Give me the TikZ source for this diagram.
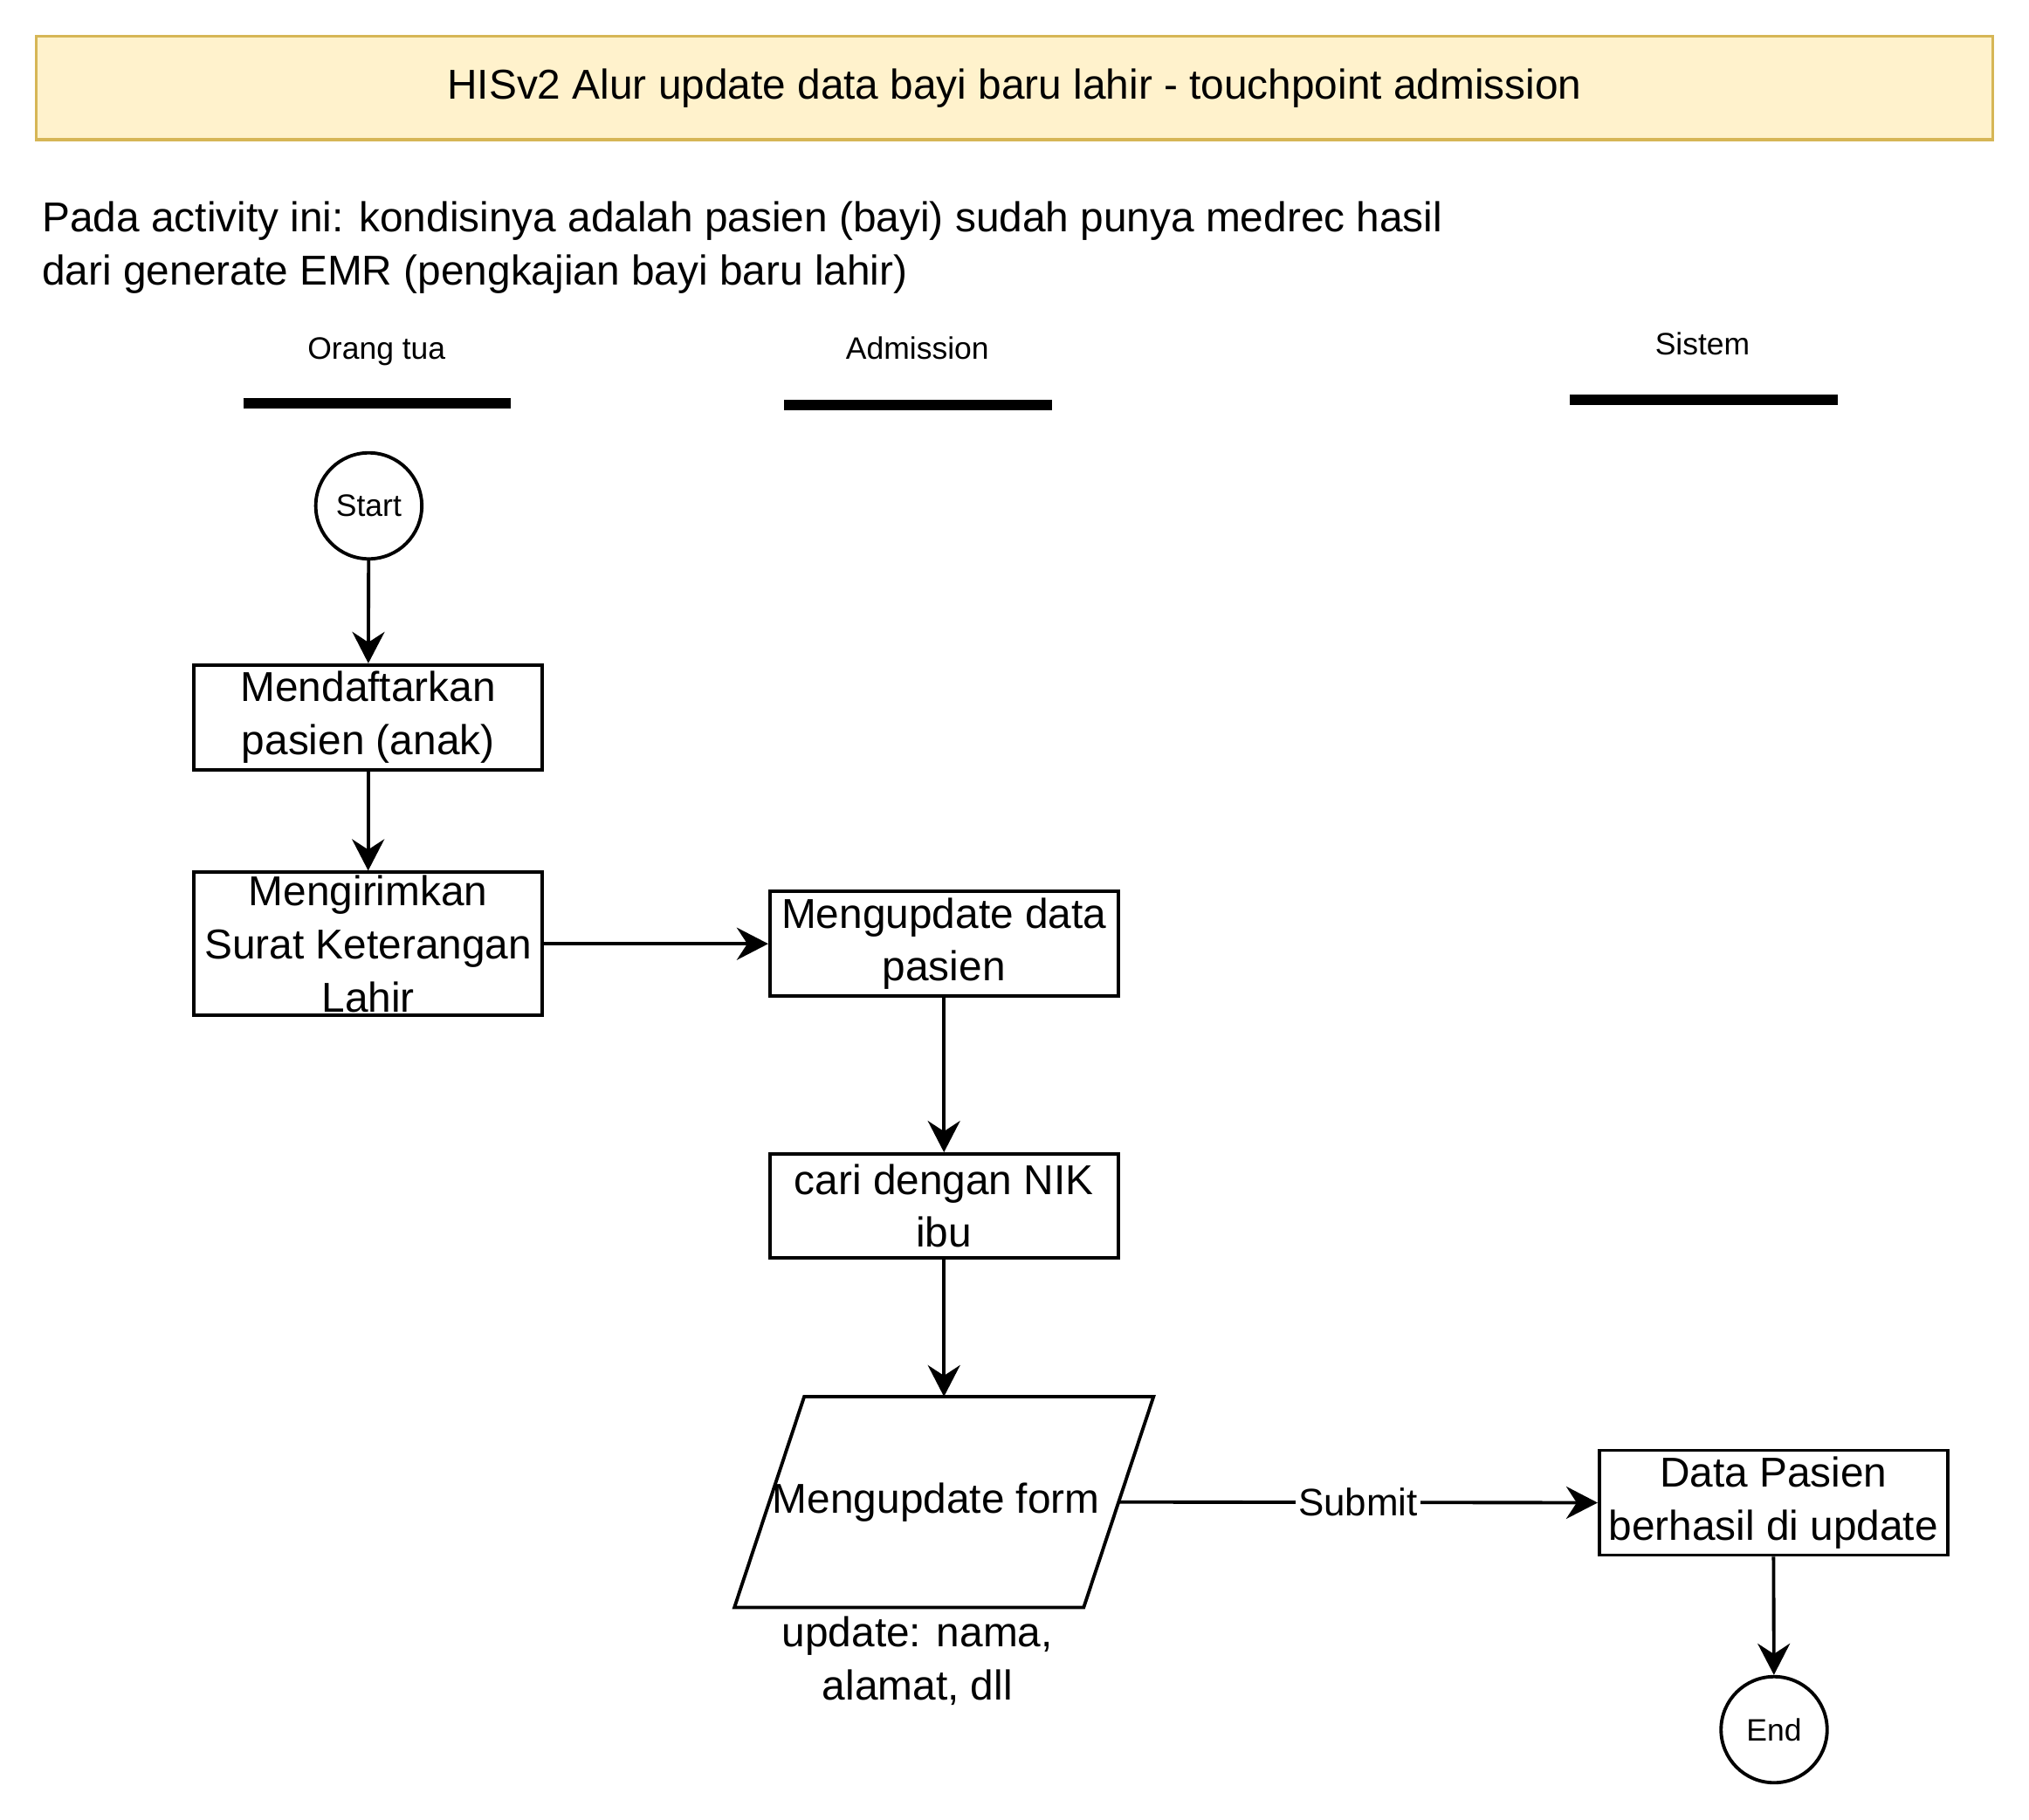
\documentclass[tikz,border=0pt]{standalone}
\usepackage{fontspec}
\setmainfont{Liberation Sans}
\usepackage{xcolor}
\usepackage{tikz}
\usetikzlibrary{arrows.meta,positioning,calc}
\definecolor{titlefill}{HTML}{FFF2CC}
\definecolor{titledraw}{HTML}{D6B656}
\newcommand{\boxfont}{\fontsize{13.6}{17.3}\selectfont}
\newcommand{\smallfont}{\fontsize{10.1}{12}\selectfont}

\begin{document}
\begin{tikzpicture}[
    >={Stealth[length=3.6mm,width=3.7mm,inset=1.2mm]},
    flow/.style={->,line width=1.1pt,draw=black},
    process/.style={draw=black,line width=1.1pt,fill=white,
      minimum width=3.987cm,minimum height=1.2cm,align=center,
      inner sep=1pt,font=\boxfont},
    terminal/.style={circle,draw=black,line width=1.1pt,fill=white,
      minimum size=1.215cm,inner sep=0pt,font=\smallfont},
    formarea/.style={minimum width=4.787cm,minimum height=2.401cm,
      inner sep=0pt,font=\boxfont},
    formline/.style={draw=black,line width=1.1pt,line join=miter},
    titlebox/.style={draw=titledraw,line width=1.1pt,fill=titlefill,
      minimum width=22.41cm,minimum height=1.186cm,font=\boxfont},
    lanelabel/.style={font=\smallfont,anchor=base},
    lanebar/.style={line width=3.4pt,draw=black},
    note/.style={font=\boxfont,align=center},
    edgelabel/.style={fill=white,inner sep=1pt,
      font=\fontsize{12.5}{15}\selectfont}
  ]
    \useasboundingbox (0,0) rectangle (23.24,-20.84);

    % Header and description.
    \node[titlebox] (title) at (11.62,-1.008)
      {HISv2 Alur update data bayi baru lahir - touchpoint admission};
    \node[note,anchor=west,align=left] (desc) at (0.36,-2.84)
      {Pada activity ini: kondisinya adalah pasien (bayi) sudah punya medrec hasil\\
       dari generate EMR (pengkajian bayi baru lahir)};

    % Lanes.
    \node[lanelabel] (laneortu) at (4.313,-4.11) {Orang tua};
    \node[lanelabel] (laneadm) at (10.508,-4.11) {Admission};
    \node[lanelabel] (lanesys) at (19.50,-4.065) {Sistem};
    \draw[lanebar] (2.786,-4.620) -- (5.854,-4.620);
    \draw[lanebar] (8.982,-4.639) -- (12.050,-4.639);
    \draw[lanebar] (17.978,-4.580) -- (21.046,-4.580);

    % Orang tua.
    \node[terminal] (start) at (4.224,-5.795) {Start};
    \node[process] (daftar) at (4.217,-8.218)
      {Mendaftarkan\\pasien (anak)};
    \node[process,minimum height=1.586cm] (kirim) at (4.217,-10.812)
      {Mengirimkan\\Surat Keterangan\\Lahir};

    % Admission.
    \node[process] (updatedata) at (10.812,-10.812)
      {Mengupdate data\\pasien};
    \node[process,minimum height=1.186cm] (carinik) at (10.812,-13.813)
      {cari dengan NIK\\ibu};
    \node[formarea,xshift=-0.09cm] (formtext) at (10.812,-17.207) {Mengupdate form};
    \node[formarea] (form) at (10.812,-17.207) {};
    \draw[formline]
      ($(form.north west)+(0.80,0)$) -- (form.north east) --
      ($(form.south east)+(-0.80,0)$) -- (form.south west) -- cycle;
    \coordinate (formright) at ($(form.east)+(-0.40,0)$);
    \node[note] (formnote) at (10.508,-19.03)
      {update: nama,\\alamat, dll};

    % Sistem.
    \node[process] (berhasil) at (20.312,-17.215)
      {Data Pasien\\berhasil di update};
    \node[terminal] (end) at (20.32,-19.815) {End};

    \draw[flow] (start) -- (daftar);
    \draw[flow] (daftar) -- (kirim);
    \draw[flow] (kirim) -- (updatedata);
    \draw[flow] (updatedata) -- (carinik);
    \draw[flow] (carinik) -- (form.north);
    \draw[flow] (formright) -- node[edgelabel] {Submit} (berhasil.west);
    \draw[flow] (berhasil) -- (end);
\end{tikzpicture}
\end{document}
